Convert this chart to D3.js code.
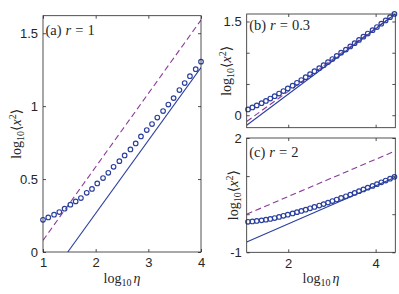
<!DOCTYPE html>
<html>
<head>
<meta charset="utf-8">
<script src="https://cdnjs.cloudflare.com/ajax/libs/d3/7.8.5/d3.min.js"></script>
<style>
  body { margin: 0; background: #fff; }
  .tick text { font-family: "Liberation Sans", Arial, sans-serif; font-size: 13px; fill: #262626; }
  .tick line { stroke: #262626; stroke-width: 0.8; }
  .domain { display: none; }
  .frame { fill: none; stroke: #262626; stroke-width: 0.8; }
  text.lbl { font-family: "Liberation Serif", "Times New Roman", "DejaVu Serif", serif; fill: #262626; }
</style>
</head>
<body>
<div id="chart"></div>
<script>
// panel (a) r = 1
var etaA = [1.00, 1.10, 1.21, 1.31, 1.41, 1.52, 1.62, 1.72, 1.83, 1.93,
            2.03, 2.14, 2.24, 2.34, 2.45, 2.55, 2.66, 2.76, 2.86, 2.97,
            3.07, 3.17, 3.28, 3.38, 3.48, 3.59, 3.69, 3.79, 3.90, 4.00];
var msdA = [0.221, 0.237, 0.256, 0.274, 0.297, 0.324, 0.347, 0.370, 0.406, 0.432,
            0.470, 0.507, 0.543, 0.584, 0.623, 0.662, 0.703, 0.744, 0.792, 0.836,
            0.877, 0.922, 0.966, 1.011, 1.055, 1.110, 1.158, 1.205, 1.253, 1.305];
var solidAx = [1.47, 4], solidAy = [0, 1.265];
var dashAx = [1, 4], dashAy = [0.08, 1.59];

// panels (b) r = 0.3 and (c) r = 2 share eta
var etaBC = [1.08, 1.18, 1.28, 1.39, 1.49, 1.59, 1.69, 1.79, 1.89, 1.99,
             2.10, 2.20, 2.30, 2.40, 2.50, 2.60, 2.71, 2.81, 2.91, 3.01,
             3.11, 3.21, 3.32, 3.42, 3.52, 3.62, 3.72, 3.82, 3.93, 4.03,
             4.13, 4.23, 4.33, 4.43];
var msdB = [0.092, 0.124, 0.157, 0.192, 0.228, 0.266, 0.305, 0.346, 0.387, 0.429,
            0.473, 0.518, 0.563, 0.609, 0.656, 0.704, 0.752, 0.800, 0.850, 0.899,
            0.949, 1.000, 1.050, 1.101, 1.152, 1.204, 1.256, 1.307, 1.360, 1.411,
            1.464, 1.516, 1.569, 1.621];
var solidBx = [1.05, 4.45], solidBy = [-0.16, 1.62];
var dashBx = [1.05, 4.45], dashBy = [-0.10, 1.62];

var msdC = [-0.200, -0.190, -0.177, -0.162, -0.145, -0.125, -0.100, -0.072, -0.043, -0.012,
            0.020, 0.054, 0.086, 0.119, 0.154, 0.190, 0.227, 0.265, 0.304, 0.344,
            0.385, 0.427, 0.470, 0.514, 0.558, 0.603, 0.649, 0.695, 0.741, 0.788,
            0.836, 0.883, 0.931, 0.980];
var solidCx = [1.05, 4.45], solidCy = [-0.73, 0.97];
var dashCx = [1.05, 4.45], dashCy = [0, 1.66];

var blue = "#2a3f9e", purple = "#8b3a9b";
var serif = "'Liberation Serif', 'Times New Roman', 'DejaVu Serif', serif";

var svg = d3.select("#chart")
  .append("svg")
  .attr("width", 399)
  .attr("height", 294);

function panel(opt) {
  var x = d3.scaleLinear().domain(opt.xdom).range([opt.left, opt.right]);
  var y = d3.scaleLinear().domain(opt.ydom).range([opt.bottom, opt.top]);
  var g = svg.append("g");

  g.append("clipPath").attr("id", "clip" + opt.id)
    .append("rect")
    .attr("x", opt.left).attr("y", opt.top)
    .attr("width", opt.right - opt.left).attr("height", opt.bottom - opt.top);

  // ticks inside, mirrored on all sides
  g.append("g")
    .attr("class", "xax")
    .attr("transform", "translate(0," + opt.bottom + ")")
    .call(d3.axisBottom(x).tickValues(opt.xticks).tickSizeInner(-3).tickSizeOuter(0).tickPadding(6)
      .tickFormat(function(d) { return opt.xlab ? d : ""; }));
  g.append("g")
    .attr("transform", "translate(0," + opt.top + ")")
    .call(d3.axisTop(x).tickValues(opt.xticks).tickSizeInner(-3).tickSizeOuter(0).tickFormat(""));
  g.append("g")
    .attr("transform", "translate(" + opt.left + ",0)")
    .call(d3.axisLeft(y).tickValues(opt.yticks).tickSizeInner(-3).tickSizeOuter(0).tickPadding(5)
      .tickFormat(function(d) { return opt.ylabs.indexOf(d) >= 0 ? d : ""; }));
  g.append("g")
    .attr("transform", "translate(" + opt.right + ",0)")
    .call(d3.axisRight(y).tickValues(opt.yticks).tickSizeInner(-3).tickSizeOuter(0).tickFormat(""));

  g.selectAll(".xax .tick text").attr("dy", "0.71em");

  var plot = g.append("g").attr("clip-path", "url(#clip" + opt.id + ")");
  var line = d3.line().x(function(d) { return x(d[0]); }).y(function(d) { return y(d[1]); });

  plot.append("path")
    .datum(d3.zip(opt.dx, opt.dy))
    .attr("d", line)
    .attr("fill", "none")
    .attr("stroke", purple)
    .attr("stroke-width", 1.1)
    .attr("stroke-dasharray", "6,3.5");

  plot.append("path")
    .datum(d3.zip(opt.sx, opt.sy))
    .attr("d", line)
    .attr("fill", "none")
    .attr("stroke", blue)
    .attr("stroke-width", 1.1);

  g.append("g").selectAll("circle")
    .data(d3.zip(opt.eta, opt.msd))
    .join("circle")
    .attr("cx", function(d) { return x(d[0]); })
    .attr("cy", function(d) { return y(d[1]); })
    .attr("r", 2.3)
    .attr("fill", "none")
    .attr("stroke", blue)
    .attr("stroke-width", 1.15);

  g.append("rect").attr("class", "frame")
    .attr("x", opt.left).attr("y", opt.top)
    .attr("width", opt.right - opt.left).attr("height", opt.bottom - opt.top);

  // panel tag, e.g. (a) r = 1
  var t = g.append("text").attr("class", "lbl")
    .attr("font-family", serif)
    .attr("x", opt.left + 2.5).attr("y", opt.top + opt.tagdy)
    .attr("font-size", 14.5);
  t.append("tspan").text(opt.tag);
  t.append("tspan").attr("dx", 4).attr("font-style", "italic").text("r");
  t.append("tspan").attr("dx", 4).text("=");
  t.append("tspan").attr("dx", 4).text(opt.r);

  // y label
  var yl = g.append("text").attr("class", "lbl")
    .attr("font-family", serif)
    .attr("font-size", 14)
    .attr("text-anchor", "middle")
    .attr("transform", "translate(" + opt.ylx + "," + ((opt.top + opt.bottom) / 2) + ") rotate(-90)");
  yl.append("tspan").text("log");
  yl.append("tspan").attr("font-size", 10).attr("dy", 3).text("10");
  yl.append("tspan").attr("dy", -3).text("\u27E8");
  yl.append("tspan").attr("font-style", "italic").text("x");
  yl.append("tspan").attr("font-size", 10).attr("dy", -5).text("2");
  yl.append("tspan").attr("dy", 5).text("\u27E9");

  if (opt.xlab) {
    var xl = g.append("text").attr("class", "lbl")
      .attr("font-family", serif)
      .attr("font-size", 14)
      .attr("text-anchor", "middle")
      .attr("x", (opt.left + opt.right) / 2)
      .attr("y", 283);
    xl.append("tspan").text("log");
    xl.append("tspan").attr("font-size", 10).attr("dy", 3).text("10");
    xl.append("tspan").attr("dy", -3).attr("dx", 2).attr("font-style", "italic").text("\u03B7");
  }
}

panel({ id: "a", left: 43, right: 201, top: 15.7, bottom: 252,
  xdom: [1, 4], ydom: [0, 1.62], xticks: [1, 2, 3, 4], yticks: [0, 0.5, 1, 1.5],
  ylabs: [0, 0.5, 1, 1.5], xlab: true, tag: "(a)", r: "1", tagdy: 19, ylx: 21,
  eta: etaA, msd: msdA, sx: solidAx, sy: solidAy, dx: dashAx, dy: dashAy });

panel({ id: "b", left: 246.7, right: 395.3, top: 14, bottom: 127.7,
  xdom: [1.05, 4.45], ydom: [-0.2, 1.62], xticks: [2, 4], yticks: [0, 0.5, 1, 1.5],
  ylabs: [0, 1.5], xlab: false, tag: "(b)", r: "0.3", tagdy: 15.5, ylx: 231,
  eta: etaBC, msd: msdB, sx: solidBx, sy: solidBy, dx: dashBx, dy: dashBy });

panel({ id: "c", left: 246.7, right: 395.3, top: 138, bottom: 252.3,
  xdom: [1.05, 4.45], ydom: [-1, 2], xticks: [2, 4], yticks: [-1, 0, 1, 2],
  ylabs: [-1, 2], xlab: true, tag: "(c)", r: "2", tagdy: 19, ylx: 238,
  eta: etaBC, msd: msdC, sx: solidCx, sy: solidCy, dx: dashCx, dy: dashCy });
</script>
</body>
</html>
